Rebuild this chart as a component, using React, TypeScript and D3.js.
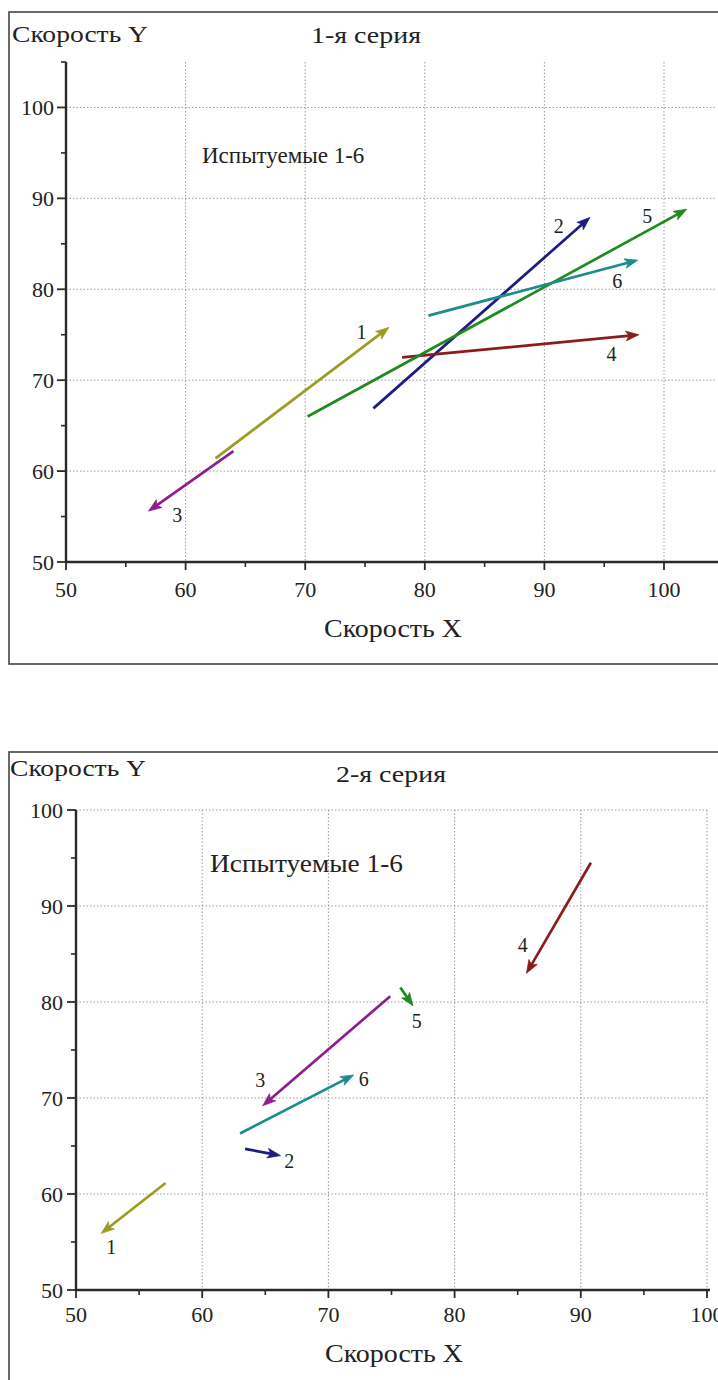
import React from "react";
import * as d3 from "d3";

// ---- data ----
const subjects = ["1", "2", "3", "4", "5", "6"];
const subjectColors = ["#9c9c22", "#1c1c82", "#8e1e8e", "#8c1c1c", "#1f8a1f", "#1f8c8c"];

// Series 1 (1-я серия): arrow start / end and label positions
const s1StartX = [62.5, 75.7, 64.0, 78.1, 70.2, 80.3];
const s1StartY = [61.4, 66.9, 62.2, 72.5, 66.0, 77.1];
const s1EndX = [77.0, 93.8, 56.9, 97.9, 101.9, 97.8];
const s1EndY = [75.8, 87.9, 55.6, 75.0, 88.8, 83.2];
const s1LabelX = [74.7, 91.2, 59.3, 95.6, 98.6, 96.1];
const s1LabelY = [75.3, 87.0, 55.2, 72.9, 88.1, 80.9];

// Series 2 (2-я серия)
const s2StartX = [57.1, 63.4, 74.9, 90.8, 75.7, 63.0];
const s2StartY = [61.15, 64.7, 80.6, 94.5, 81.5, 66.3];
const s2EndX = [52.0, 66.2, 64.8, 85.7, 76.7, 72.0];
const s2EndY = [55.9, 64.0, 69.2, 83.0, 79.6, 72.4];
const s2LabelX = [52.8, 66.9, 64.6, 85.4, 77.0, 72.8];
const s2LabelY = [54.5, 63.4, 71.9, 85.9, 78.0, 72.0];

const majorTicks = [50, 60, 70, 80, 90, 100];
const gridTicks = [60, 70, 80, 90, 100];
const minorTicks1 = [55, 65, 75, 85, 95, 105];
const minorTicks2 = [55, 65, 75, 85, 95];

const FONT = "'Liberation Serif', 'Times New Roman', serif";
const AXIS_COLOR = "#2a2a2a";
const TEXT_COLOR = "#222";

type PanelProps = {
  top: number;
  borderH: number;
  title: string;
  xRange: [number, number];
  xDomain: [number, number];
  yRange: [number, number];
  yDomain: [number, number];
  xMinor: number[];
  yMinor: number[];
  sx: number[]; sy: number[]; ex: number[]; ey: number[]; lx: number[]; ly: number[];
  titleX: number; titleY: number; seriesX: number; seriesY: number;
  subjX: number; subjY: number; subjLen?: number; subjSize: number;
  xLabelX: number; xLabelY: number;
  xTickY: number; yTickRight: number;
};

function Arrow({ x1, y1, x2, y2, color }: { x1: number; y1: number; x2: number; y2: number; color: string }) {
  const dx = x2 - x1, dy = y2 - y1;
  const len = Math.sqrt(dx * dx + dy * dy);
  const ux = dx / len, uy = dy / len;
  const headL = Math.min(13, len * 0.6), headW = 4.8;
  const bx = x2 - ux * headL, by = y2 - uy * headL;
  const px = -uy, py = ux;
  const pts = [
    [x2, y2],
    [bx + px * headW, by + py * headW],
    [x2 - ux * headL * 0.75, y2 - uy * headL * 0.75],
    [bx - px * headW, by - py * headW],
  ];
  return (
    <g>
      <line x1={x1} y1={y1} x2={x2 - ux * headL * 0.7} y2={y2 - uy * headL * 0.7} stroke={color} strokeWidth={2.7} strokeLinecap="butt" />
      <polygon points={pts.map((p) => p.join(",")).join(" ")} fill={color} stroke={color} strokeWidth={0.8} strokeLinejoin="round" />
    </g>
  );
}

function Panel(p: PanelProps) {
  const x = d3.scaleLinear().domain(p.xDomain).range(p.xRange);
  const y = d3.scaleLinear().domain(p.yDomain).range(p.yRange);
  const x0 = p.xRange[0];
  const y0 = p.yRange[0];
  const yTop = p.yRange[1];
  const xRight = Math.min(p.xRange[1], 716);
  const subjExtra = p.subjLen ? { textLength: p.subjLen, lengthAdjust: "spacingAndGlyphs" } : {};
  return (
    <g>
      <rect x={9} y={p.top} width={740} height={p.borderH} fill="none" stroke="#444" strokeWidth={1.6} />
      <text x={p.titleX} y={p.titleY} fontFamily={FONT} fontSize={23} fill={TEXT_COLOR} dominantBaseline="central" textLength={136} lengthAdjust="spacingAndGlyphs">Скорость Y</text>
      <text x={p.seriesX - 55} y={p.seriesY} fontFamily={FONT} fontSize={23} fill={TEXT_COLOR} dominantBaseline="central" textLength={110} lengthAdjust="spacingAndGlyphs">{p.title}</text>
      {/* grid */}
      {gridTicks.map((t) => (
        <line key={"gx" + t} x1={x(t)} x2={x(t)} y1={yTop} y2={y0} stroke="#9a9a9a" strokeWidth={1} strokeDasharray="1.5,2" />
      ))}
      {gridTicks.map((t) => (
        <line key={"gy" + t} x1={x0} x2={xRight} y1={y(t)} y2={y(t)} stroke="#9a9a9a" strokeWidth={1} strokeDasharray="1.5,2" />
      ))}
      {/* axes */}
      <line x1={x0} x2={x0} y1={yTop} y2={y0 + 1} stroke={AXIS_COLOR} strokeWidth={2.4} />
      <line x1={x0 - 1} x2={Math.min(p.xRange[1] + 3, 720)} y1={y0} y2={y0} stroke={AXIS_COLOR} strokeWidth={2.6} />
      {majorTicks.map((t) => (
        <g key={"xt" + t}>
          <line x1={x(t)} x2={x(t)} y1={y0} y2={y0 + 8} stroke={AXIS_COLOR} strokeWidth={1.8} />
          <text x={x(t)} y={p.xTickY} fontFamily={FONT} fontSize={22} fill={TEXT_COLOR} textAnchor="middle" dominantBaseline="central">{t}</text>
        </g>
      ))}
      {p.xMinor.map((t) => (
        <line key={"xm" + t} x1={x(t)} x2={x(t)} y1={y0} y2={y0 + 5} stroke={AXIS_COLOR} strokeWidth={1.6} />
      ))}
      {majorTicks.map((t) => (
        <g key={"yt" + t}>
          <line x1={x0 - 9} x2={x0} y1={y(t)} y2={y(t)} stroke={AXIS_COLOR} strokeWidth={1.8} />
          <text x={p.yTickRight} y={y(t)} fontFamily={FONT} fontSize={22} fill={TEXT_COLOR} textAnchor="end" dominantBaseline="central">{t}</text>
        </g>
      ))}
      {p.yMinor.map((t) => (
        <line key={"ym" + t} x1={x0 - 5} x2={x0} y1={y(t)} y2={y(t)} stroke={AXIS_COLOR} strokeWidth={1.6} />
      ))}
      <text x={p.xLabelX - 69} y={p.xLabelY} fontFamily={FONT} fontSize={25} fill={TEXT_COLOR} dominantBaseline="central" textLength={138} lengthAdjust="spacingAndGlyphs">Скорость X</text>
      <text x={p.subjX} y={p.subjY} fontFamily={FONT} fontSize={p.subjSize} fill={TEXT_COLOR} dominantBaseline="central" {...subjExtra}>Испытуемые 1-6</text>
      {/* arrows */}
      {subjects.map((s, i) => (
        <g key={"a" + s}>
          <Arrow x1={x(p.sx[i])} y1={y(p.sy[i])} x2={x(p.ex[i])} y2={y(p.ey[i])} color={subjectColors[i]} />
          <text x={x(p.lx[i])} y={y(p.ly[i])} fontFamily={FONT} fontSize={20} fill={TEXT_COLOR} textAnchor="middle" dominantBaseline="central">{s}</text>
        </g>
      ))}
    </g>
  );
}

export default function App() {
  return (
    <svg width={718} height={1380} style={{ position: "absolute", left: 0, top: 0, background: "#fff" }}>
      <rect x={0} y={0} width={718} height={1380} fill="#fff" />
      <Panel
        top={12} borderH={652} title="1-я серия"
        xRange={[66, 66 + 55 * 11.96]} xDomain={[50, 105]}
        yRange={[562, 62]} yDomain={[50, 105]}
        xMinor={minorTicks1} yMinor={minorTicks1}
        sx={s1StartX} sy={s1StartY} ex={s1EndX} ey={s1EndY} lx={s1LabelX} ly={s1LabelY}
        titleX={12} titleY={34} seriesX={366} seriesY={35}
        subjX={202} subjY={155} subjSize={23}
        xLabelX={393} xLabelY={628}
        xTickY={589} yTickRight={54}
      />
      <Panel
        top={752} borderH={660} title="2-я серия"
        xRange={[76, 707]} xDomain={[50, 100]}
        yRange={[1290, 810]} yDomain={[50, 100]}
        xMinor={minorTicks2} yMinor={minorTicks2}
        sx={s2StartX} sy={s2StartY} ex={s2EndX} ey={s2EndY} lx={s2LabelX} ly={s2LabelY}
        titleX={10} titleY={768} seriesX={391} seriesY={774}
        subjX={210} subjY={863} subjLen={193} subjSize={25}
        xLabelX={394} xLabelY={1353}
        xTickY={1314} yTickRight={63}
      />
    </svg>
  );
}
